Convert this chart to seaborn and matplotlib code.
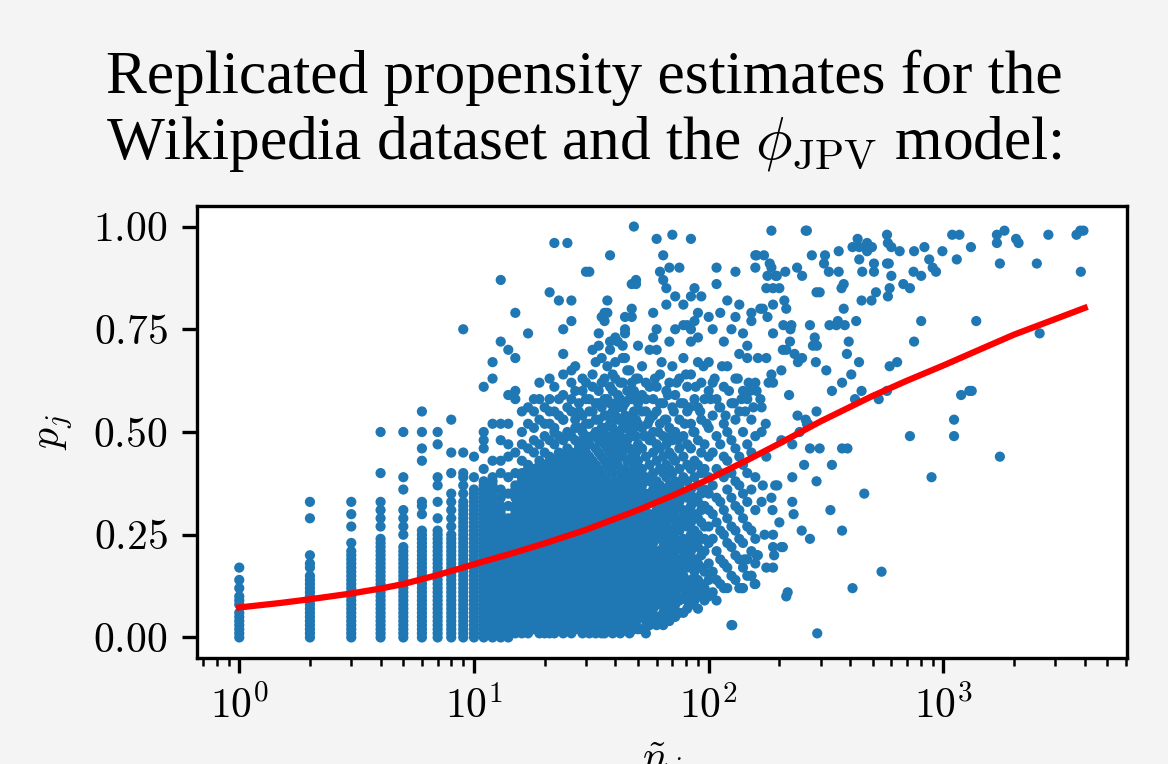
import numpy as np
import pandas as pd
import matplotlib
matplotlib.use("Agg")
import matplotlib.pyplot as plt
from matplotlib.ticker import FuncFormatter, NullFormatter, FixedLocator
import seaborn as sns

# ---------------- data (p values in percent) ----------------
# dense columns at small counts
low_counts = [1, 2, 3, 4, 5, 6, 7, 8, 9, 10, 11, 12, 13]
low_props = [
    [0, 1, 2, 3, 4, 5, 6, 8, 9, 10, 12, 14, 17],
    [0, 1, 2, 3, 4, 5, 6, 7, 8, 9, 10, 11, 12, 13, 14, 15, 17, 18, 20, 29, 33],
    [0, 1, 2, 3, 4, 5, 6, 7, 8, 9, 10, 11, 12, 13, 14, 15, 16, 17, 18, 19, 20, 21, 23, 27, 30, 33],
    [0, 1, 2, 3, 4, 5, 6, 7, 8, 9, 10, 11, 12, 13, 14, 15, 16, 17, 18, 19, 20, 21, 22, 23, 24, 27, 29, 31, 33, 40, 50],
    [0, 1, 2, 3, 4, 5, 6, 7, 8, 9, 10, 11, 12, 13, 14, 15, 16, 17, 18, 19, 20, 21, 22, 25, 27, 29, 31, 36, 39, 50],
    [0, 1, 2, 3, 4, 5, 6, 7, 8, 9, 10, 11, 12, 13, 14, 15, 16, 17, 18, 19, 20, 21, 22, 23, 24, 25, 26, 30, 32, 33, 43, 46, 50, 55],
    [0, 1, 2, 3, 4, 5, 6, 7, 8, 9, 10, 11, 12, 13, 14, 15, 16, 17, 18, 19, 20, 21, 22, 23, 24, 25, 26, 29, 33, 37, 39, 47, 50],
    [0, 1, 2, 3, 4, 5, 6, 7, 8, 9, 10, 11, 12, 13, 14, 15, 16, 17, 18, 19, 20, 21, 22, 23, 24, 25, 27, 29, 31, 33, 35, 40, 45, 53],
    [0, 1, 2, 3, 4, 5, 6, 7, 8, 9, 10, 11, 12, 13, 14, 15, 16, 17, 18, 19, 20, 21, 22, 23, 24, 25, 26, 27, 28, 29, 30, 31, 32, 33, 35, 37, 39, 40, 45, 75],
    [0, 1, 2, 3, 4, 5, 6, 7, 8, 9, 10, 11, 12, 13, 14, 15, 16, 17, 18, 19, 20, 21, 22, 23, 24, 25, 26, 27, 28, 29, 30, 31, 32, 33, 34, 35, 36, 39, 44],
    [0, 1, 2, 3, 4, 5, 6, 7, 8, 9, 10, 11, 12, 13, 14, 15, 16, 17, 18, 19, 20, 21, 22, 23, 24, 25, 26, 27, 28, 29, 30, 31, 32, 33, 34, 35, 36, 37, 38, 41, 46, 48, 50, 61],
    [0, 1, 2, 3, 4, 5, 6, 7, 8, 9, 10, 11, 12, 13, 14, 15, 16, 17, 18, 19, 20, 21, 22, 23, 24, 25, 26, 27, 28, 29, 30, 31, 32, 33, 34, 35, 36, 37, 38, 39, 43, 52, 63, 67],
    [0, 1, 2, 3, 4, 5, 6, 7, 8, 9, 10, 11, 12, 13, 14, 15, 16, 17, 18, 19, 20, 21, 22, 23, 24, 25, 26, 27, 28, 29, 30, 31, 32, 34, 36, 40, 43, 48, 52, 72, 87],
]

# columns where the cloud starts (14..30)
mid_counts = [14, 15, 16, 17, 18, 19, 20, 21, 22, 23, 24, 25, 26, 27, 28, 29, 30]
mid_props = [
    [0, 1, 2, 3, 4, 5, 6, 7, 8, 9, 10, 11, 12, 13, 14, 15, 16, 17, 18, 19, 20, 21, 22, 23, 24, 25, 26, 27, 28, 29, 32, 35, 39, 44, 47, 52, 59, 70],
    [1, 2, 3, 4, 5, 6, 7, 8, 9, 10, 11, 12, 13, 14, 15, 16, 17, 18, 19, 20, 21, 22, 23, 24, 25, 26, 27, 28, 29, 30, 31, 32, 34, 35, 36, 37, 40, 45, 58, 60, 68, 79],
    [1, 2, 3, 4, 5, 6, 7, 8, 9, 10, 11, 12, 13, 14, 15, 16, 17, 18, 19, 20, 21, 22, 23, 24, 25, 26, 27, 28, 29, 30, 31, 32, 33, 34, 35, 37, 38, 39, 40, 43, 47, 50, 55],
    [1, 2, 3, 4, 5, 6, 7, 8, 9, 10, 11, 12, 13, 14, 15, 16, 17, 18, 19, 20, 21, 22, 23, 24, 25, 26, 27, 28, 29, 30, 31, 32, 33, 34, 35, 36, 37, 39, 40, 41, 42, 46, 52, 56, 74],
    [2, 3, 4, 5, 6, 7, 8, 9, 10, 11, 12, 13, 14, 15, 16, 17, 18, 19, 20, 21, 22, 23, 24, 25, 26, 27, 28, 29, 30, 31, 32, 33, 34, 36, 37, 38, 40, 41, 45, 48, 51, 55],
    [1, 2, 3, 4, 5, 6, 7, 8, 9, 10, 11, 12, 13, 14, 15, 16, 17, 18, 19, 20, 21, 22, 23, 24, 25, 26, 27, 28, 29, 30, 31, 32, 33, 34, 35, 36, 38, 39, 40, 41, 42, 43, 47, 53, 58],
    [1, 2, 3, 4, 5, 6, 7, 8, 9, 10, 11, 12, 13, 14, 15, 16, 17, 18, 19, 20, 21, 22, 23, 24, 25, 26, 27, 28, 29, 30, 31, 32, 33, 34, 35, 36, 37, 38, 39, 41, 42, 45, 49, 56],
    [1, 2, 3, 4, 5, 6, 7, 8, 9, 10, 11, 12, 13, 14, 15, 16, 17, 18, 19, 20, 21, 22, 23, 24, 25, 26, 27, 28, 29, 30, 31, 32, 33, 34, 35, 36, 37, 38, 40, 41, 42, 43, 44, 48, 52, 58, 84],
    [1, 2, 3, 4, 5, 6, 7, 8, 9, 10, 11, 12, 13, 14, 15, 16, 17, 18, 19, 20, 21, 22, 23, 24, 25, 26, 27, 28, 29, 30, 31, 32, 33, 34, 35, 37, 38, 39, 40, 42, 43, 47, 51, 55, 61, 96],
    [2, 3, 4, 5, 6, 7, 8, 9, 10, 11, 12, 13, 14, 15, 16, 17, 18, 19, 20, 21, 22, 23, 24, 25, 26, 27, 28, 29, 30, 31, 32, 33, 34, 35, 36, 37, 38, 39, 40, 41, 43, 44, 45, 49, 54, 82],
    [1, 2, 3, 4, 5, 6, 7, 8, 9, 10, 11, 12, 13, 14, 15, 16, 17, 18, 19, 20, 21, 22, 23, 24, 25, 26, 27, 28, 29, 30, 31, 32, 33, 34, 35, 36, 37, 39, 40, 41, 42, 43, 44, 48, 53, 59, 69, 75],
    [2, 3, 4, 5, 6, 7, 8, 9, 10, 11, 12, 13, 14, 15, 16, 17, 18, 19, 20, 21, 22, 23, 24, 25, 26, 27, 28, 29, 30, 31, 32, 33, 34, 35, 36, 37, 38, 39, 41, 42, 44, 45, 46, 50, 56, 96],
    [1, 2, 3, 4, 5, 6, 7, 8, 9, 10, 11, 12, 13, 14, 15, 16, 17, 18, 19, 20, 21, 22, 23, 24, 25, 26, 27, 28, 29, 30, 31, 32, 33, 34, 35, 36, 37, 38, 39, 40, 41, 42, 43, 44, 45, 49, 55, 62, 65, 77, 82],
    [2, 3, 4, 5, 6, 7, 8, 9, 10, 11, 12, 13, 14, 15, 16, 17, 18, 19, 20, 21, 22, 23, 24, 25, 26, 27, 28, 29, 30, 31, 32, 33, 34, 35, 36, 37, 38, 39, 40, 42, 43, 44, 48, 53, 60],
    [2, 3, 4, 5, 6, 7, 8, 9, 10, 11, 12, 13, 14, 15, 16, 17, 18, 19, 20, 21, 22, 23, 24, 25, 26, 27, 28, 29, 30, 31, 32, 33, 34, 35, 36, 37, 38, 39, 40, 41, 42, 43, 45, 46, 47, 51, 57],
    [1, 2, 3, 4, 5, 6, 7, 8, 9, 10, 11, 12, 13, 14, 15, 16, 17, 18, 19, 20, 21, 22, 23, 24, 25, 26, 27, 28, 29, 30, 31, 32, 33, 34, 35, 36, 37, 38, 40, 41, 42, 43, 44, 45, 46, 50, 54, 63],
    [2, 3, 4, 5, 6, 7, 8, 9, 10, 11, 12, 13, 14, 15, 16, 17, 18, 19, 20, 21, 22, 23, 24, 25, 26, 27, 28, 29, 30, 31, 32, 33, 34, 35, 36, 37, 38, 39, 40, 41, 42, 43, 44, 45, 49, 52, 58, 89],
]

# the dense cloud (31..158)
cloud_counts = [31, 32, 33, 34, 35, 36, 37, 38, 39, 40, 41, 42, 43, 44, 45, 46, 47, 48, 49, 50,
                52, 54, 56, 58, 60, 62, 64, 66, 68, 70, 72, 75, 78, 81, 84, 87, 90, 93, 96, 100,
                104, 108, 112, 116, 120, 125, 130, 135, 140, 146, 152, 158]
cloud_props = [
    [1, 3, 5, 8, 10, 13, 15, 18, 20, 23, 26, 28, 31, 33, 36, 38, 41, 44, 47, 52, 58, 89],
    [2, 4, 7, 9, 12, 14, 17, 19, 22, 24, 27, 30, 32, 35, 37, 40, 43, 49, 55, 61, 70],
    [1, 3, 6, 8, 11, 13, 16, 18, 21, 23, 26, 28, 31, 34, 36, 39, 42, 46, 50, 57],
    [2, 5, 7, 10, 12, 15, 17, 20, 22, 25, 27, 30, 33, 35, 38, 41, 45, 48, 53, 60, 71, 74],
    [1, 4, 6, 9, 11, 14, 16, 19, 21, 24, 26, 29, 32, 34, 37, 40, 44, 51, 56, 68, 78],
    [1, 2, 5, 8, 10, 13, 15, 18, 20, 23, 25, 28, 31, 33, 36, 39, 43, 47, 54, 63, 77, 79],
    [3, 6, 9, 11, 14, 17, 19, 22, 24, 27, 30, 32, 35, 38, 42, 46, 49, 58, 79, 82],
    [2, 4, 7, 10, 12, 15, 18, 21, 23, 26, 29, 31, 34, 37, 41, 45, 52, 61, 70, 72, 93],
    [1, 5, 8, 11, 13, 16, 20, 22, 25, 28, 30, 33, 36, 40, 44, 48, 55, 64],
    [2, 4, 6, 9, 12, 14, 17, 19, 23, 26, 29, 32, 35, 38, 43, 47, 50, 57, 67, 73],
    [3, 7, 10, 13, 15, 18, 21, 24, 27, 31, 34, 37, 42, 46, 53, 59, 72],
    [1, 5, 8, 11, 14, 16, 20, 22, 25, 28, 30, 33, 36, 40, 44, 49, 62],
    [2, 4, 7, 10, 12, 15, 18, 21, 24, 26, 29, 32, 35, 39, 45, 51, 56, 68, 71],
    [3, 6, 9, 13, 16, 19, 23, 27, 30, 34, 38, 41, 47, 54, 68, 74, 75, 78],
    [2, 5, 8, 11, 14, 17, 20, 22, 25, 28, 31, 36, 43, 48, 60],
    [1, 4, 7, 10, 12, 15, 18, 21, 24, 27, 30, 33, 37, 40, 46, 52, 65],
    [3, 6, 9, 13, 16, 19, 23, 26, 29, 32, 35, 39, 44, 50, 58, 78, 80, 86],
    [2, 5, 8, 11, 14, 17, 20, 22, 25, 28, 31, 34, 38, 42, 49, 55, 100],
    [3, 4, 7, 10, 13, 16, 19, 21, 24, 27, 30, 33, 36, 41, 45, 53, 63, 86, 87],
    [2, 6, 9, 12, 15, 18, 22, 25, 28, 32, 35, 39, 43, 47, 57, 71],
    [2, 5, 8, 11, 14, 17, 20, 23, 27, 30, 33, 37, 41, 46, 51, 59, 66],
    [1, 4, 7, 10, 13, 16, 19, 22, 25, 28, 32, 35, 39, 44, 49, 55, 62],
    [3, 6, 9, 12, 15, 18, 21, 24, 27, 30, 34, 38, 42, 48, 53, 70],
    [4, 7, 10, 14, 17, 20, 23, 26, 29, 33, 36, 40, 45, 50, 58, 73, 79],
    [3, 5, 9, 12, 15, 18, 21, 25, 28, 31, 35, 38, 43, 47, 55, 61, 70, 75, 97],
    [4, 8, 11, 14, 17, 20, 24, 27, 30, 34, 37, 41, 46, 52, 64, 89],
    [3, 6, 10, 13, 16, 19, 22, 26, 29, 32, 36, 40, 44, 49, 57, 87, 93],
    [5, 8, 12, 15, 18, 21, 24, 28, 31, 35, 39, 42, 47, 53, 60, 81, 85],
    [4, 7, 10, 13, 17, 20, 23, 26, 30, 33, 37, 41, 45, 51, 62, 72, 90],
    [6, 9, 12, 15, 19, 22, 25, 29, 32, 36, 40, 44, 48, 56, 66, 98],
    [5, 8, 11, 14, 17, 21, 24, 27, 31, 34, 38, 43, 50, 59, 75, 83],
    [6, 9, 13, 16, 19, 22, 26, 29, 33, 37, 41, 46, 53, 63, 90],
    [6, 10, 12, 15, 18, 21, 24, 28, 31, 35, 39, 44, 49, 57, 68, 76, 81],
    [7, 9, 13, 17, 20, 23, 27, 30, 34, 38, 42, 47, 55, 61, 76],
    [8, 11, 14, 18, 21, 25, 28, 32, 36, 41, 46, 52, 64, 72, 75, 83, 97],
    [9, 12, 16, 19, 23, 26, 30, 34, 39, 43, 50, 58, 77, 85],
    [7, 11, 14, 18, 22, 25, 29, 33, 37, 42, 48, 56, 67, 73, 79],
    [10, 13, 17, 20, 24, 28, 31, 35, 40, 45, 53, 62, 83],
    [9, 12, 16, 21, 24, 27, 32, 36, 41, 47, 58],
    [10, 14, 18, 23, 27, 31, 35, 39, 44, 51, 60, 67, 78],
    [11, 16, 24, 30, 37, 45, 54, 62, 75],
    [9, 14, 21, 28, 34, 41, 49, 58, 86, 90],
    [13, 19, 26, 33, 40, 47, 56, 79],
    [12, 18, 25, 31, 39, 44, 52, 61, 72],
    [12, 17, 23, 29, 36, 43, 50, 66, 82],
    [3, 15, 22, 27, 34, 40, 48, 57, 75],
    [14, 20, 26, 32, 38, 46, 53, 63, 78, 89],
    [12, 19, 24, 31, 37, 44, 55, 69, 81],
    [12, 17, 23, 29, 35, 42, 50, 60, 74],
    [15, 19, 27, 33, 40, 47, 58, 68, 71],
    [15, 21, 26, 36, 45, 53, 77, 79],
    [13, 18, 24, 31, 39, 49, 62, 90, 93],
]

# scattered points in the 0.45-0.70 band above the core
band_counts = [18, 19, 20, 21, 21, 22, 23, 24, 24, 25, 26, 27, 27, 28, 29, 29, 30, 31, 32, 32,
               33, 33, 34, 35, 35, 36, 36, 37, 37, 38, 38, 39, 39, 40, 40, 41, 41, 42, 42, 43,
               43, 44, 44, 45, 45, 46, 46, 47, 47, 48, 48, 49, 49, 50, 50, 52, 53, 54, 55, 56,
               57, 58, 59, 61, 62, 63, 65, 67, 69, 71, 73, 74, 76, 79, 80, 83, 86, 88, 92, 95,
               98, 102, 106, 111, 114, 118, 122, 128, 133, 138, 143, 148, 155, 160, 168, 175]
band_props = [58, 62, 52, 55, 63, 50, 58, 53, 64, 49, 58, 51, 66, 55, 60, 48, 62, 55, 49, 64,
              53, 67, 57, 49, 62, 51, 58, 54, 66, 48, 57, 51, 60, 54, 63, 49, 56, 53, 58, 48,
              62, 51, 57, 53, 65, 49, 58, 54, 62, 51, 60, 49, 58, 52, 63, 55, 49, 58, 52, 61,
              48, 54, 63, 50, 57, 67, 53, 59, 49, 55, 62, 48, 57, 52, 64, 56, 50, 61, 55, 66,
              52, 58, 63, 56, 66, 54, 60, 57, 63, 58, 55, 62, 56, 60, 56, 52]

# sparse points at large counts
sparse_counts = [
    160, 162, 166, 170, 172, 176, 176, 178, 178, 182, 185, 185, 188, 188, 188, 193, 195, 200,
    207, 208, 210, 212, 214, 214, 222, 223, 225, 232, 238, 240, 250, 250, 259, 262, 270, 275,
    283, 288, 289, 297, 313, 310, 325, 358, 358, 368, 376, 410, 431, 438, 438, 451, 473, 473,
    496, 506, 506, 516, 494, 448, 575, 580, 600, 575, 585, 600, 590, 580, 651, 675, 720, 746,
    750, 804, 830, 870, 900, 930, 990, 1090, 1170, 1140, 1310, 1690, 1690, 1820, 1740, 2040,
    2090, 2500, 2800, 3690, 3830, 3950, 3850,
    327, 350, 355, 380, 425, 376, 804, 1380, 278, 395, 388, 750, 2570, 437, 286, 317, 590,
    635, 405, 370, 335, 448, 420, 575, 530, 1190, 1290, 1320, 1110, 259, 265, 297, 370, 390,
    720, 1110, 1740, 335, 890, 460, 330, 370, 545, 410, 290,
    185, 188, 204, 220, 239, 262, 288, 204, 227, 270, 288, 227, 196, 170, 185, 168, 227, 249,
    270, 188, 173, 204, 188, 190, 176, 188, 160, 142, 157, 217, 214, 126, 138, 152, 187, 192,
    207, 162, 176, 166, 244, 230, 255, 200, 180, 150, 168,
]
sparse_props = [
    93, 68, 80, 80, 93, 85, 68, 88, 78, 91, 90, 99, 85, 81, 74, 88, 88, 85,
    70, 76, 82, 89, 80, 70, 72, 75, 76, 69, 90, 67, 88, 68, 99, 99, 76, 93,
    73, 84, 71, 84, 93, 91, 89, 94, 89, 85, 86, 95, 97, 95, 92, 89, 96, 94,
    95, 91, 89, 84, 82, 82, 98, 96, 95, 91, 91, 88, 85, 83, 94, 86, 85, 89,
    94, 88, 95, 92, 90, 89, 94, 98, 98, 92, 95, 98, 96, 99, 91, 97,
    96, 91, 98, 98, 99, 99, 89,
    76, 76, 77, 76, 77, 80, 77, 77, 71, 72, 69, 72, 74, 67, 67, 65, 66,
    67, 64, 62, 60, 60, 58, 60, 58, 59, 60, 60, 53, 53, 52, 46, 46, 46,
    49, 49, 44, 42, 39, 35, 31, 26, 16, 12, 1,
    64, 62, 65, 59, 54, 52, 55, 48, 47, 46, 38, 39, 37, 37, 34, 33, 33, 26,
    24, 25, 25, 22, 22, 20, 17, 17, 20, 19, 13, 11, 10, 3, 12, 15, 31, 37,
    22, 20, 44, 58, 50, 30, 42, 28, 62, 60, 50,
]

# fitted propensity curve
curve_counts = [1, 1.5, 2, 3, 4, 5, 7, 10, 15, 20, 30, 50, 70, 100, 150, 200, 300,
                500, 700, 1000, 1500, 2000, 3000, 4000]
curve_props = [0.073, 0.084, 0.093, 0.107, 0.119, 0.130, 0.152, 0.178, 0.207, 0.229,
               0.262, 0.310, 0.345, 0.385, 0.435, 0.472, 0.526, 0.588, 0.625, 0.662,
               0.706, 0.737, 0.775, 0.802]

title_text = "Replicated propensity estimates for the\nWikipedia dataset and the $\\phi_{\\mathrm{JPV}}$ model:"
y_ticks = [0.0, 0.25, 0.5, 0.75, 1.0]

# ---------------- build table ----------------
all_n, all_p = [], []
for counts, props in ((low_counts, low_props), (mid_counts, mid_props), (cloud_counts, cloud_props)):
    for n, ps in zip(counts, props):
        all_n.extend([n] * len(ps))
        all_p.extend([v / 100.0 for v in ps])
for counts, props in ((band_counts, band_props), (sparse_counts, sparse_props)):
    all_n.extend(counts)
    all_p.extend([v / 100.0 for v in props])
points = pd.DataFrame({"n": all_n, "p": all_p})
curve = pd.DataFrame({"n": curve_counts, "p": curve_props})

# ---------------- style ----------------
plt.rcParams["mathtext.fontset"] = "cm"
plt.rcParams["font.family"] = ["Liberation Serif", "DejaVu Serif"]

fig = plt.figure(figsize=(1168 / 300, 764 / 300), dpi=300, facecolor="#f4f4f4")
ax = fig.add_axes([197 / 1168, 1 - 658 / 764, 930 / 1168, 452 / 764])
ax.set_facecolor("white")

sns.scatterplot(data=points, x="n", y="p", ax=ax, s=6, color="#1f77b4",
                linewidth=0, edgecolor="none", legend=False, zorder=2)
sns.lineplot(data=curve, x="n", y="p", ax=ax, color="red", linewidth=1.5,
             sort=True, legend=False, zorder=3)

ax.set_xscale("log")
ax.yaxis.set_major_locator(FixedLocator(y_ticks))
ax.yaxis.set_major_formatter(FuncFormatter(lambda v, pos: f"${v:.2f}$"))
ax.xaxis.set_major_formatter(FuncFormatter(lambda v, pos: f"$10^{{{int(round(np.log10(v)))}}}$"))
ax.xaxis.set_minor_formatter(NullFormatter())
ax.tick_params(axis="both", which="major", labelsize=10, length=3.5, width=0.8, color="black")
ax.tick_params(axis="x", which="minor", length=2, width=0.6)
for sp in ax.spines.values():
    sp.set_linewidth(0.8)
    sp.set_color("black")

ax.set_ylabel("$p_j$", fontsize=10, labelpad=4.5)
ax.set_xlabel("$\\tilde{n}_j$", fontsize=10, labelpad=3)

fig.suptitle(title_text, x=0.5, y=0.935, fontsize=14.7, linespacing=1.18, va="top")

fig.savefig("out.png", dpi=300, facecolor=fig.get_facecolor())
